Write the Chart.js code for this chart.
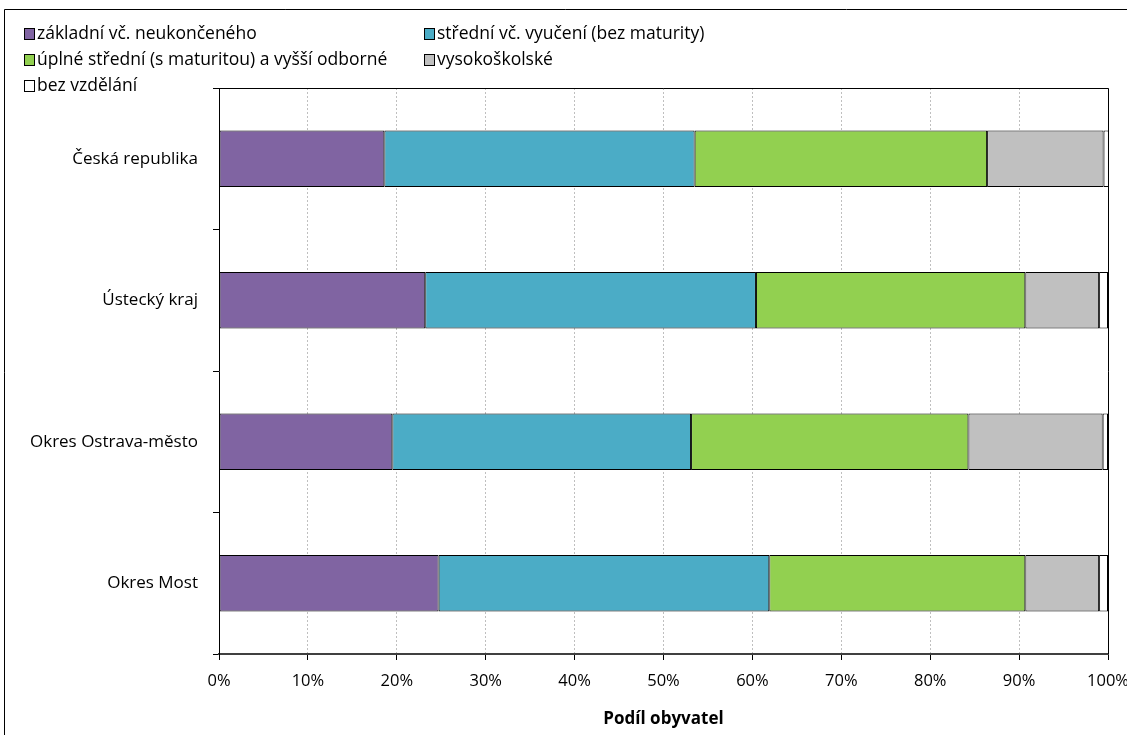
<!DOCTYPE html>
<html>
<head>
<meta charset="utf-8">
<script src="https://cdn.jsdelivr.net/npm/chart.js@4/dist/chart.umd.min.js"></script>
<style>
  html, body { margin: 0; padding: 0; background: #fff; }
  #wrap { width: 1127px; height: 735px; position: relative; }
</style>
</head>
<body>
<div id="wrap"><canvas id="educationChart" width="1127" height="735"></canvas></div>
<script>
"use strict";

// regions (top to bottom)
const regions = ["Česká republika", "Ústecký kraj", "Okres Ostrava-město", "Okres Most"];

// series, share of population in %
const zakladni   = [18.6, 23.2, 19.5, 24.7];
const stredniVyu = [34.9, 37.2, 33.6, 37.2];
const uplneStr   = [32.9, 30.3, 31.2, 28.8];
const vysokoskol = [13.1, 8.3, 15.1, 8.3];
const bezVzdel   = [0.6, 1.0, 0.6, 1.0];

const seriesNames = [
  "základní vč. neukončeného",
  "střední vč. vyučení (bez maturity)",
  "úplné střední (s maturitou) a vyšší odborné",
  "vysokoškolské",
  "bez vzdělání"
];
const seriesColors = ["#8064A2", "#4BACC6", "#92D050", "#C0C0C0", "#FFFFFF"];
const xTicks = [0, 10, 20, 30, 40, 50, 60, 70, 80, 90, 100];
const xTitle = "Podíl obyvatel";

const FONT = "'Open Sans', Lato, sans-serif";

// legend in two columns + plot frame, drawn by hand
const frameAndLegend = {
  id: 'frameAndLegend',
  afterDraw(chart) {
    const { ctx, chartArea: { left, right, top, bottom } } = chart;
    ctx.save();

    // outer frame (top + left edge)
    ctx.strokeStyle = '#000';
    ctx.lineWidth = 1;
    ctx.beginPath();
    ctx.moveTo(4.5, 735);
    ctx.lineTo(4.5, 9.5);
    ctx.lineTo(1127, 9.5);
    ctx.stroke();

    // plot area top and right border
    ctx.beginPath();
    ctx.moveTo(left, Math.round(top) + 0.5);
    ctx.lineTo(Math.round(right) + 0.5, Math.round(top) + 0.5);
    ctx.lineTo(Math.round(right) + 0.5, bottom);
    ctx.stroke();

    // legend
    const slots = [[24, 34], [424, 34], [24, 60], [424, 60], [24, 86]];
    ctx.font = '17.5px ' + FONT;
    ctx.textBaseline = 'middle';
    ctx.textAlign = 'left';
    chart.data.datasets.forEach((ds, i) => {
      const [x, y] = slots[i];
      ctx.fillStyle = ds.backgroundColor;
      ctx.fillRect(x + 0.5, y - 5.5, 10, 11);
      ctx.strokeStyle = '#000';
      ctx.strokeRect(x + 0.5, y - 5.5, 10, 11);
      ctx.fillStyle = '#000';
      ctx.fillText(ds.label, x + 13, y);
    });
    ctx.restore();
  }
};

const seriesData = [zakladni, stredniVyu, uplneStr, vysokoskol, bezVzdel];

new Chart(document.getElementById("educationChart"), {
  type: 'bar',
  data: {
    labels: regions,
    datasets: seriesData.map((d, i) => ({
      label: seriesNames[i],
      data: d,
      backgroundColor: seriesColors[i],
      borderColor: '#000',
      borderWidth: 1,
      borderSkipped: false,
      categoryPercentage: 1,
      barPercentage: 0.4
    }))
  },
  options: {
    indexAxis: 'y',
    responsive: false,
    animation: false,
    layout: { padding: { top: 88, right: 19, left: 0, bottom: 0 } },
    plugins: {
      legend: { display: false },
      tooltip: { enabled: false },
      title: { display: false }
    },
    scales: {
      x: {
        stacked: true,
        min: 0,
        max: 100,
        afterBuildTicks(scale) {
          scale.ticks = xTicks.map(v => ({ value: v }));
        },
        afterFit(scale) {
          scale.height = 81;
          scale.paddingLeft = 0;
          scale.paddingRight = 0;
        },
        ticks: {
          color: '#000',
          font: { family: FONT, size: 16.5 },
          padding: 11,
          maxRotation: 0,
          callback: v => v + '%'
        },
        grid: {
          color: '#BFBFBF',
          tickColor: '#000',
          tickLength: 6,
          lineWidth: 1
        },
        border: { display: true, color: '#404040', width: 2, dash: [2, 2] },
        title: {
          display: true,
          text: xTitle,
          color: '#000',
          font: { family: FONT, size: 17, weight: 'bold' },
          padding: { top: 0, bottom: 6 }
        }
      },
      y: {
        stacked: true,
        offset: true,
        afterFit(scale) { scale.width = 219; },
        ticks: {
          color: '#000',
          font: { family: FONT, size: 17 },
          padding: 15
        },
        grid: {
          offset: true,
          drawOnChartArea: false,
          tickColor: '#000',
          tickLength: 6
        },
        border: { display: true, color: '#000', width: 1 }
      }
    }
  },
  plugins: [frameAndLegend]
});
</script>
</body>
</html>
